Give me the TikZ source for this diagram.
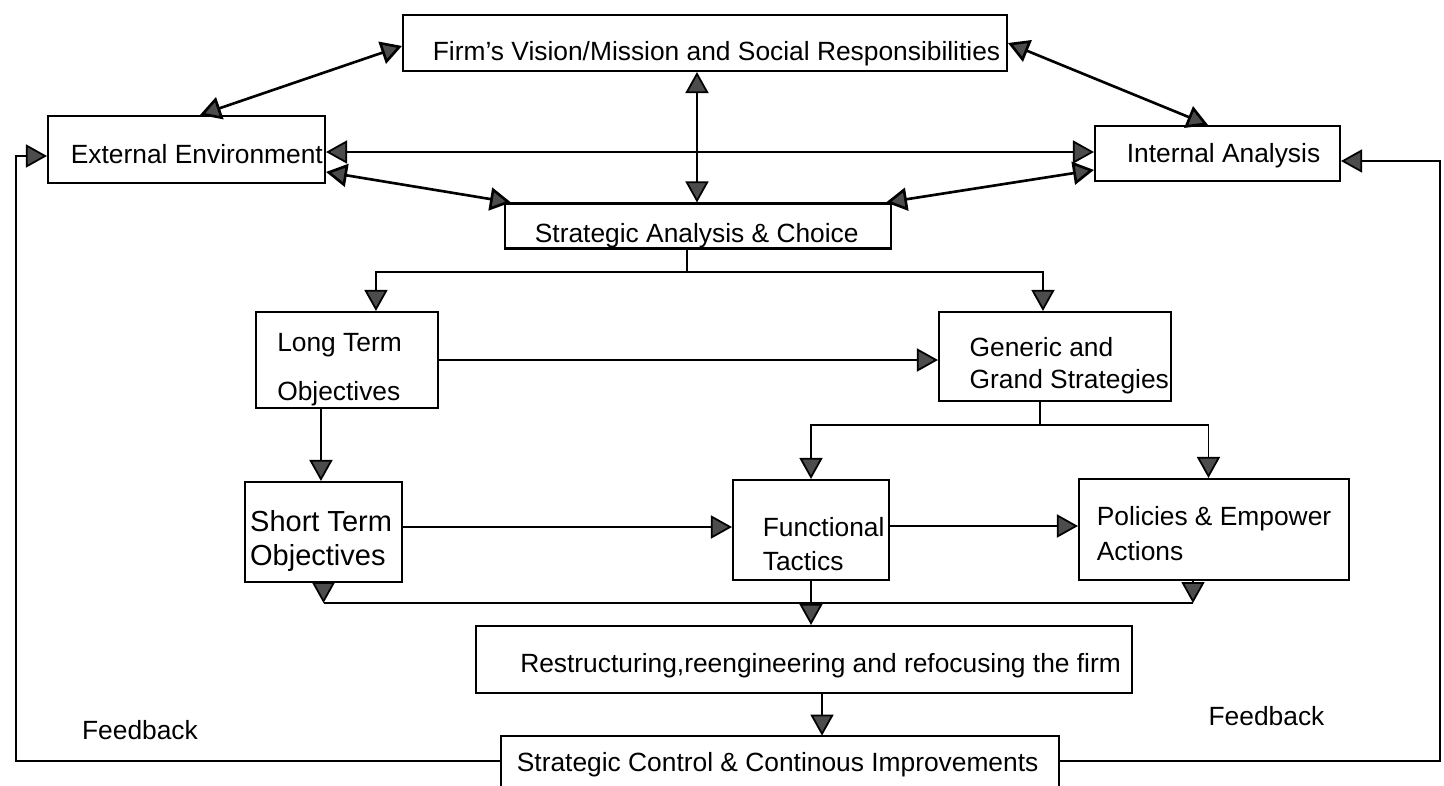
\documentclass[tikz,border=0pt]{standalone}
\usepackage{fontspec}
\setmainfont{Liberation Sans}
\usetikzlibrary{arrows.meta,calc}
\newcommand\diagfont{\fontsize{15pt}{18pt}\selectfont}
\newcommand\diagfontL{\fontsize{16.5pt}{19.8pt}\selectfont}
\begin{document}
\begin{tikzpicture}[x=0.02cm,y=-0.02cm,line width=1pt,
  tri/.tip={Triangle[length=0.42cm,width=0.46cm,fill=black!70]},
  box/.style={draw,line width=1.2pt,inner sep=0pt},
  txt/.style={inner sep=0pt,anchor=base west,font=\diagfont},
  tip/.style={-tri},
  dbl/.style={tri-tri,line width=1.5pt}]
\useasboundingbox (0,0) rectangle (1444,785);
% boxes
\node[box,minimum width=12.08cm,minimum height=1.12cm] (vis) at (705,43) {};
\node[box,minimum width=5.54cm,minimum height=1.34cm] (ext) at (186.5,149.5) {};
\node[box,minimum width=4.9cm,minimum height=1.1cm] (ia) at (1217.5,153.5) {};
\node[box,minimum width=7.72cm,minimum height=0.9cm] (strat) at (698,226) {};
\node[box,minimum width=3.64cm,minimum height=1.92cm] (lt) at (347,360) {};
\node[box,minimum width=4.64cm,minimum height=1.78cm] (gen) at (1055,356.5) {};
\node[box,minimum width=3.14cm,minimum height=2cm] (st) at (323.5,532) {};
\node[box,minimum width=3.12cm,minimum height=2cm] (func) at (811,530) {};
\node[box,minimum width=5.4cm,minimum height=2.02cm] (pol) at (1214,529.5) {};
\node[box,minimum width=13.12cm,minimum height=1.34cm] (restr) at (804,659.5) {};
\node[inner sep=0pt,minimum width=11.12cm,minimum height=0.97cm] (sc) at (780,760.75) {};
\draw[line width=1.2pt] (sc.south west) -- (sc.north west) -- (sc.north east) -- (sc.south east);
% texts
\node[txt] (visT) at (432,60) {Firm's Vision/Mission and Social Responsibilities};
\node[txt] (extT) at (70,163.6) {External Environment};
\node[txt] (iaT) at (1126,162.2) {Internal Analysis};
\node[txt] (stratT) at (534,242) {Strategic Analysis \& Choice};
\node[txt] (ltT1) at (276.4,351.2) {Long Term};
\node[txt] (ltT2) at (276.4,400.1) {Objectives};
\node[txt] (genT1) at (968.8,356.6) {Generic and};
\node[txt] (genT2) at (968.8,388.6) {Grand Strategies};
\node[txt,font=\diagfontL] (stT1) at (249.3,531.5) {Short Term};
\node[txt,font=\diagfontL] (stT2) at (249.3,565.5) {Objectives};
\node[txt] (funcT1) at (762,536.4) {Functional};
\node[txt] (funcT2) at (762,570.4) {Tactics};
\node[txt] (polT1) at (1096,525.3) {Policies \& Empower};
\node[txt] (polT2) at (1096,560) {Actions};
\node[txt] (restrT) at (519.4,672) {Restructuring,reengineering and refocusing the firm};
\node[txt] (scT) at (516,771) {Strategic Control \& Continous Improvements};
\node[txt,anchor=base] (fbLT) at (140,739.3) {Feedback};
\node[txt,anchor=base] (fbRT) at (1266.5,725.2) {Feedback};
% top connectors
\draw[dbl] ($(ext.north west)+(153,0)$) -- ($(vis.north west)+(0,32)$);
\draw[dbl] (vis.east) -- ($(ia.north west)+(114,0)$);
\coordinate (sv) at ($(strat.north west)+(193,0)$);
\draw[tri-tri] (vis.south -| sv) -- (sv);
\coordinate (eh) at ($(ext.east)+(0,2.5)$);
\draw[tri-tri] (eh) -- (ia.west |- eh);
\draw[dbl] ($(ext.north east)+(0,57)$) -- ($(strat.north west)+(7,0)$);
\draw[dbl] ($(ia.north west)+(0,45)$) -- ($(strat.north east)+(-6,0)$);
% first split
\coordinate (s1) at ($(strat.south west)+(183,0)$);
\coordinate (s1j) at ($(s1)+(0,22.5)$);
\draw (s1) -- (s1j);
\draw[tip] (s1j) -| ($(lt.north west)+(121,0)$);
\draw[tip] (s1j) -| ($(gen.north west)+(105,0)$);
% long term
\coordinate (l2) at ($(lt.south west)+(66,0)$);
\draw[tip] (l2) -- (st.north -| l2);
\draw[tip] (lt.east) -- (gen.west |- lt.east);
% second split
\coordinate (g1) at ($(gen.south west)+(102,0)$);
\coordinate (g1j) at ($(g1)+(0,23)$);
\draw (g1) -- (g1j);
\draw[tip] (g1j) -| (func.north);
\draw[tip] (g1j) -| ($(pol.north west)+(130.5,0)$);
% middle row
\coordinate (sf) at ($(st.east)+(0,-5)$);
\draw[tip] (sf) -- (func.west |- sf);
\coordinate (fp) at ($(func.east)+(0,-4)$);
\draw[tip] (fp) -- (pol.west |- fp);
% merge into restructuring
\coordinate (mj) at ($(func.south)+(0,22)$);
\draw[tip] (st.south) -- (st.south |- mj);
\draw (st.south |- mj) -- (mj);
\coordinate (pb) at ($(pol.south west)+(115,0)$);
\draw[tip] (pb) -- (pb |- mj);
\draw (pb |- mj) -- (mj);
\draw[tip] (func.south) -- (func.south |- restr.north);
\coordinate (rs) at ($(restr.south west)+(347,0)$);
\draw[tip] (rs) -- (sc.north -| rs);
% feedback loops
\coordinate (fbL) at (16,156);
\draw[tip] (sc.west) -| (fbL) -- (ext.west |- fbL);
\coordinate (fbR) at (1440,161);
\draw[tip] (sc.east) -| (fbR) -- (ia.east |- fbR);
\end{tikzpicture}
\end{document}
